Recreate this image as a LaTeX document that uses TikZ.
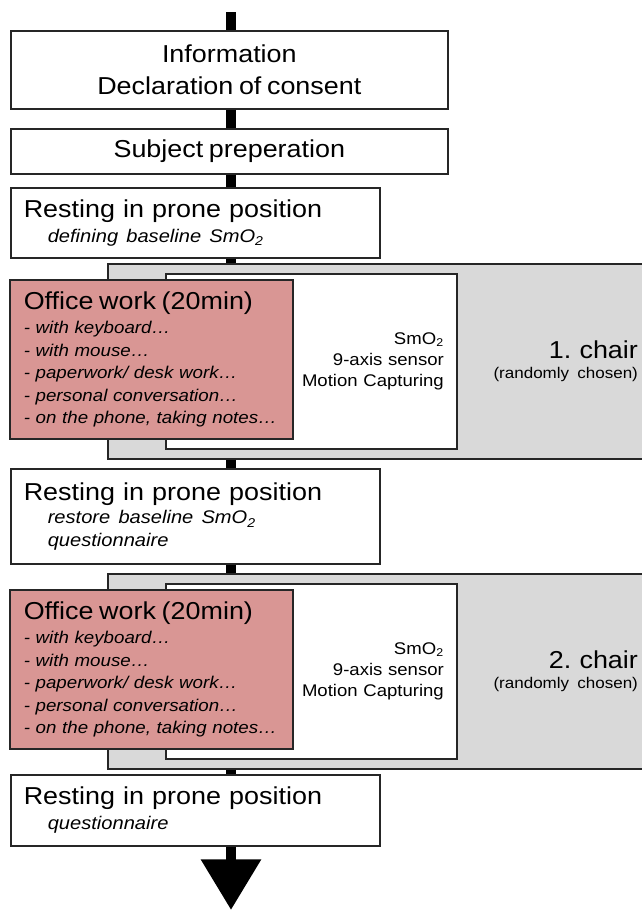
\documentclass[tikz,border=0pt]{standalone}
\usepackage{fontspec}
\setmainfont{Liberation Sans}[FakeStretch=1.1, WordSpace=0.75]
\usepackage{tikz}
\usetikzlibrary{arrows.meta}

\definecolor{officered}{RGB}{217,150,148}
\definecolor{chairgray}{RGB}{217,217,217}

\newcommand{\boxfont}{\fontsize{17.4}{16}\selectfont\upshape}
\newcommand{\notefont}{\fontsize{13}{16}\selectfont\itshape}
\newcommand{\listfont}{\fontsize{12.1}{16}\selectfont\itshape}
\newcommand{\sensorfont}{\fontsize{12}{15}\selectfont}
\newcommand{\hintfont}{\fontsize{11}{14}\selectfont}

\tikzset{
  stagebox/.style={draw=black!85, line width=1.1pt, fill=white, anchor=north west, inner ysep=0pt},
  restbox/.style={stagebox, minimum width=9.225cm, inner xsep=0.325cm, text width=8.575cm, align=left, font=\boxfont},
  chairbox/.style={stagebox, fill=chairgray, minimum width=13.4cm, minimum height=4.875cm, inner xsep=0.15cm, text width=13.1cm, align=right, font=\boxfont},
  sensorbox/.style={stagebox, minimum width=7.275cm, minimum height=4.375cm, inner xsep=0.325cm, text width=6.625cm, align=right, font=\sensorfont},
  officebox/.style={stagebox, fill=officered, minimum width=7.075cm, minimum height=3.975cm, inner xsep=0.35cm, text width=6.375cm, align=left, font=\listfont},
  spine/.style={line width=7.5pt, black}
}

\begin{document}
\frenchspacing
\begin{tikzpicture}[x=0.025cm, y=-0.025cm]
\useasboundingbox (0,0) rectangle (642,910);

\coordinate (top) at (231,12);
\coordinate (bot) at (231,910);

% preparation
\node[stagebox, minimum width=10.925cm, minimum height=1.95cm, align=center, font=\boxfont] (info) at (10,30)
  {Information\\[6.8pt]Declaration of consent};
\node[stagebox, minimum width=10.925cm, minimum height=1.125cm, font=\boxfont] (prep) at (10,128) {Subject preperation};
\node[restbox, minimum height=1.75cm] (rest1) at (10,187)
  {Resting in prone position\\[2pt]\hspace*{0.6cm}{\notefont defining baseline SmO\textsubscript{2}}};

% first chair
\node[chairbox] (chair1) at (107,263) {1. chair\\[-2pt]{\hintfont (randomly chosen)}};
\node[sensorbox] (sens1) at (165,273) {SmO\textsubscript{2}\\9-axis sensor\\Motion Capturing};
\node[officebox] (office1) at (9,279)
  {{\boxfont Office work (20min)}\\[1.6pt]
   - with keyboard…\\
   - with mouse…\\
   - paperwork/ desk work…\\
   - personal conversation…\\
   - on the phone, taking notes…};

\node[restbox, minimum height=2.375cm] (rest2) at (10,468)
  {Resting in prone position\\[1pt]
   \hspace*{0.6cm}{\notefont restore baseline SmO\textsubscript{2}}\\
   \hspace*{0.6cm}{\notefont questionnaire}};

% second chair
\node[chairbox] (chair2) at (107,573) {2. chair\\[-2pt]{\hintfont (randomly chosen)}};
\node[sensorbox] (sens2) at (165,583) {SmO\textsubscript{2}\\9-axis sensor\\Motion Capturing};
\node[officebox] (office2) at (9,589)
  {{\boxfont Office work (20min)}\\[1.6pt]
   - with keyboard…\\
   - with mouse…\\
   - paperwork/ desk work…\\
   - personal conversation…\\
   - on the phone, taking notes…};

\node[restbox, minimum height=1.775cm] (rest3) at (10,774)
  {Resting in prone position\\[2pt]\hspace*{0.6cm}{\notefont questionnaire}};

\draw[spine] (top) -- (info.north -| top);
\draw[spine] (info.south -| top) -- (prep.north -| top);
\draw[spine] (prep.south -| top) -- (rest1.north -| top);
\draw[spine] (rest1.south -| top) -- (chair1.north -| top);
\draw[spine] (chair1.south -| top) -- (rest2.north -| top);
\draw[spine] (rest2.south -| top) -- (chair2.north -| top);
\draw[spine] (chair2.south -| top) -- (rest3.north -| top);
\draw[spine, -{Triangle[length=36pt, width=41pt]}] (rest3.south -| top) -- (bot);
\end{tikzpicture}
\end{document}
